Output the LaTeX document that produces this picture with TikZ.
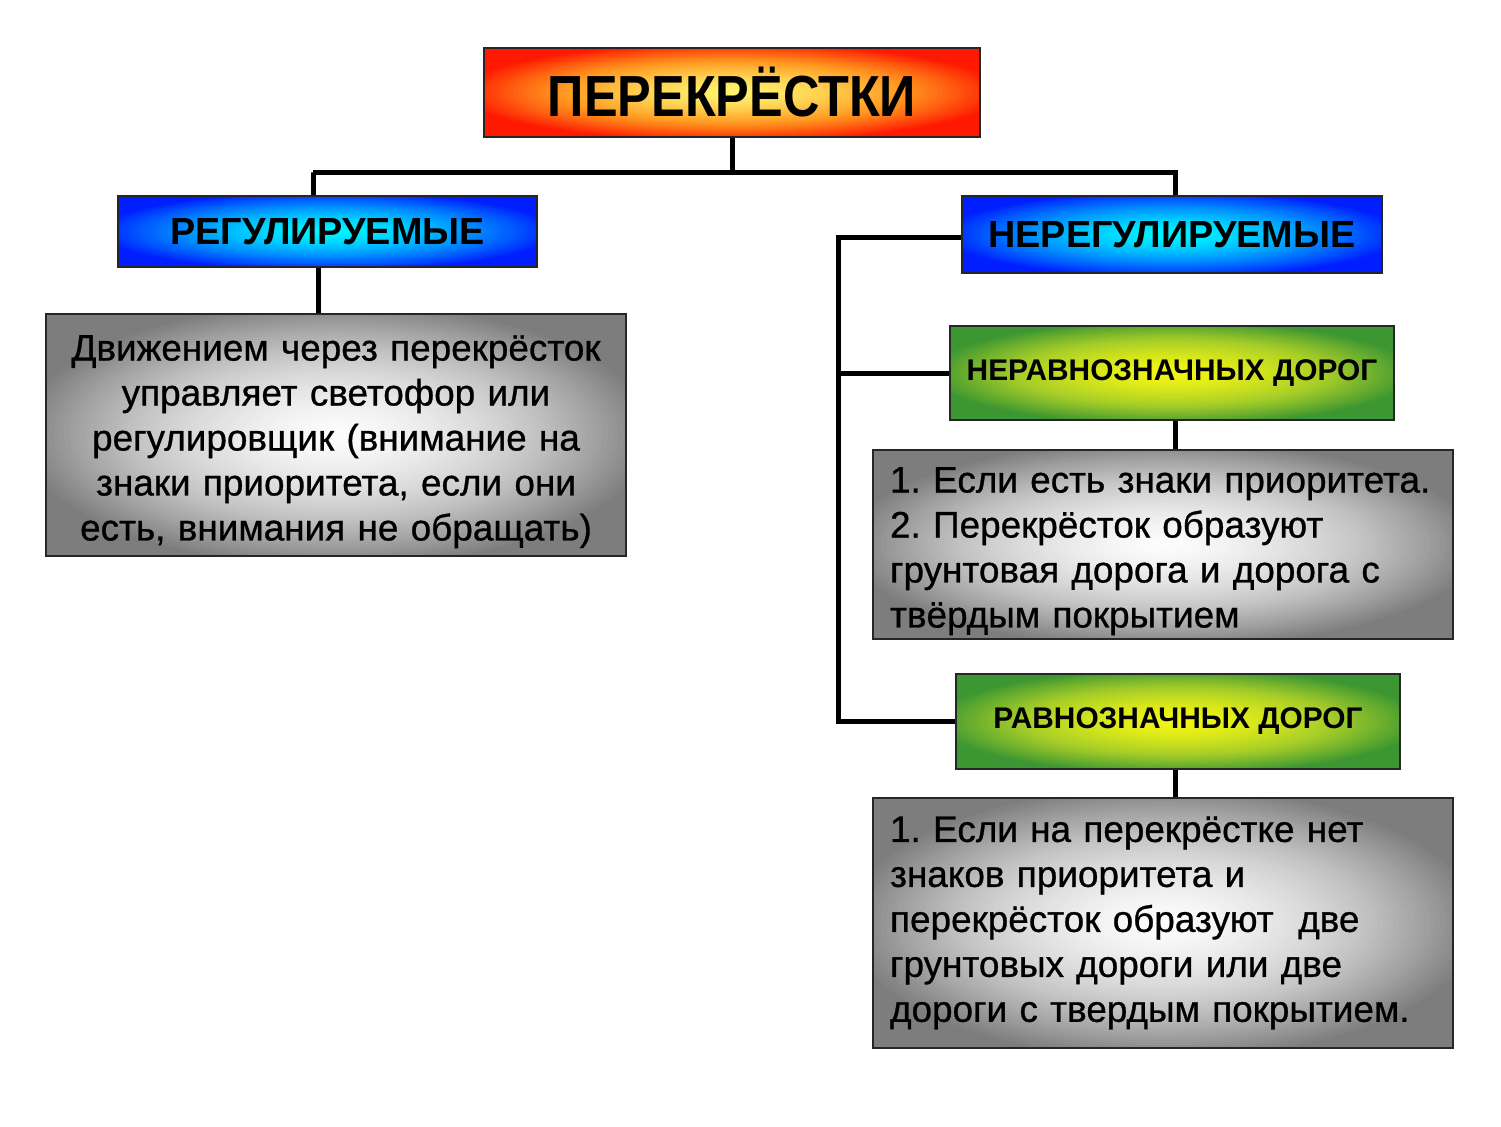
\documentclass[tikz,border=0pt]{standalone}
\usepackage{fontspec}
\usepackage{graphicx}
\setmainfont{Liberation Sans}
\newfontfamily\bodyfont{Liberation Sans}[RawFeature={embolden=0.8}]
\usetikzlibrary{calc,backgrounds}
\definecolor{tY}{RGB}{255,242,110}
\definecolor{tO}{RGB}{255,150,30}
\definecolor{tR}{RGB}{255,25,0}
\definecolor{bC}{RGB}{0,245,255}
\definecolor{bM}{RGB}{0,140,255}
\definecolor{bB}{RGB}{0,30,255}
\definecolor{gY}{RGB}{242,245,20}
\definecolor{gM}{RGB}{165,205,40}
\definecolor{gG}{RGB}{60,150,50}
\definecolor{wW}{RGB}{252,252,252}
\definecolor{wM}{RGB}{195,195,195}
\definecolor{wG}{RGB}{125,125,125}
\newcommand\gradfill[4]{%
  \path (#1.south west); \pgfgetlastxy{\gxa}{\gya}%
  \path (#1.north east); \pgfgetlastxy{\gxb}{\gyb}%
  \pgfmathsetmacro\gcx{(\gxa+\gxb)/2}%
  \pgfmathsetmacro\gcy{(\gya+\gyb)/2}%
  \pgfmathsetmacro\ghw{abs(\gxb-\gxa)/2}%
  \pgfmathsetmacro\ghh{abs(\gyb-\gya)/2}%
  \begin{pgfonlayer}{background}
  \begin{scope}
    \clip (\gxa,\gya) rectangle (\gxb,\gyb);
    \fill[#4] (\gxa,\gya) rectangle (\gxb,\gyb);
    \foreach \i in {1,...,60}{%
      \pgfmathsetmacro\gT{1-\i/60}%
      \pgfmathsetmacro\gU{\gT^1.5}%
      \pgfmathsetmacro\gP{\gU<0.5 ? 200*\gU : 200*(\gU-0.5)}%
      \pgfmathsetmacro\gRx{(\gT+1/60)*\ghw*1.08}%
      \pgfmathsetmacro\gRy{(\gT+1/60)*\ghh*1.08}%
      \ifdim\gU pt<0.5pt \def\gcol{#3!\gP!#2}\else\def\gcol{#4!\gP!#3}\fi
      \fill[\gcol] (\gcx pt,\gcy pt) ellipse [x radius=\gRx pt, y radius=\gRy pt];
    }
  \end{scope}
  \end{pgfonlayer}}
\tikzset{
  box/.style={draw=black!85, line width=0.03cm, inner sep=0pt, rectangle},
  titlebox/.style={box, font=\fontsize{33}{38}\selectfont\bfseries},
  bluebox/.style={box, font=\fontsize{21.5}{25}\selectfont\bfseries},
  greenbox/.style={box, font=\fontsize{17}{20}\selectfont\bfseries},
  graybox/.style={box, inner xsep=0.34cm, text width=10.92cm, font=\bodyfont\fontsize{21}{25.6}\selectfont},
  conn/.style={line width=0.1cm, black}
}
\begin{document}
\frenchspacing
\begin{tikzpicture}[x=0.02cm,y=-0.02cm]
\useasboundingbox (0,0) rectangle (1501,1126);
\node[titlebox, minimum width=9.92cm, minimum height=1.78cm] (title) at (732,92.5) {\scalebox{0.87}[1]{ПЕРЕКРЁСТКИ}};
\node[bluebox, minimum width=8.38cm, minimum height=1.42cm] (reg) at (327.5,231.5) {РЕГУЛИРУЕМЫЕ};
\node[bluebox, minimum width=8.40cm, minimum height=1.54cm] (nereg) at (1172,234.5) {НЕРЕГУЛИРУЕМЫЕ};
\node[greenbox, minimum width=8.88cm, minimum height=1.88cm] (nerav) at (1172,373) {НЕРАВНОЗНАЧНЫХ ДОРОГ};
\node[greenbox, minimum width=8.88cm, minimum height=1.90cm] (rav) at (1178,721.5) {РАВНОЗНАЧНЫХ ДОРОГ};
\node[graybox, align=center, minimum height=4.84cm] (left) at (336,435) {\rule{0pt}{22pt}Движением через перекрёсток управляет светофор или регулировщик (внимание на знаки приоритета, если они есть, внимания не обращать)};
\node[graybox, align=left, minimum height=3.78cm] (box1) at (1163,544.5) {\rule{0pt}{22pt}1. Если есть знаки приоритета.\\2. Перекрёсток образуют\\грунтовая дорога и дорога с\\твёрдым покрытием};
\node[graybox, align=left, minimum height=5.0cm] (box2) at (1163,923) {1. Если на перекрёстке нет\\знаков приоритета и\\перекрёсток образуют~~две\\грунтовых дороги или две\\дороги с твердым покрытием.};
\gradfill{title}{tY}{tO}{tR}
\gradfill{reg}{bC}{bM}{bB}
\gradfill{nereg}{bC}{bM}{bB}
\gradfill{nerav}{gY}{gM}{gG}
\gradfill{rav}{gY}{gM}{gG}
\gradfill{left}{wW}{wM}{wG}
\gradfill{box1}{wW}{wM}{wG}
\gradfill{box2}{wW}{wM}{wG}
\coordinate (busL) at (313,172);
\coordinate (rail) at (838,237);
\draw[conn] (title.south) -- (title.south |- busL);
\draw[conn] ([xshift=-0.29cm]reg.north) |- (busL) -| ([xshift=0.06cm]nereg.north);
\draw[conn] ([xshift=-0.19cm]reg.south) -- ([xshift=-0.19cm]reg.south |- left.north);
\draw[conn] ([yshift=-0.05cm]nereg.west) -- ([yshift=-0.05cm]nereg.west -| rail) -- (rav.west -| rail) -- (rav.west);
\draw[conn] (nerav.west) -- (nerav.west -| rail);
\draw[conn] ([xshift=0.06cm]nerav.south) -- ([xshift=0.06cm]nerav.south |- box1.north);
\draw[conn] ([xshift=-0.06cm]rav.south) -- ([xshift=-0.06cm]rav.south |- box2.north);
\end{tikzpicture}
\end{document}
